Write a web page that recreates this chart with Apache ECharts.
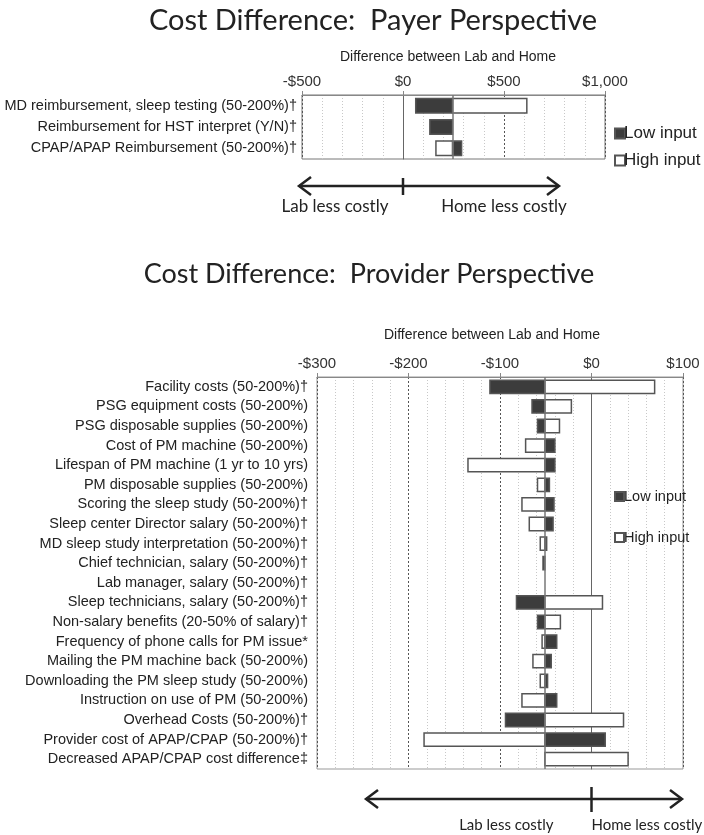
<!DOCTYPE html>
<html>
<head>
<meta charset="utf-8">
<script src="https://cdn.jsdelivr.net/npm/echarts@6/dist/echarts.min.js"></script>
<style>
html,body{margin:0;padding:0;background:#fff;}
#chart{width:704px;height:835px;}
</style>
</head>
<body>
<div id="chart"></div>
<script>
// ---------- DATA ----------
const payerCategories = [
  'MD reimbursement, sleep testing (50-200%)\u2020',
  'Reimbursement for HST interpret (Y/N)\u2020',
  'CPAP/APAP Reimbursement (50-200%)\u2020'
];
const payerBase = 245;
const payerLow  = [63, 133, 290];
const payerHigh = [613, 245, 163];
const payerTicks = [-500, 0, 500, 1000];

const providerCategories = [
  'Facility costs (50-200%)\u2020',
  'PSG equipment costs (50-200%)',
  'PSG disposable supplies (50-200%)',
  'Cost of PM machine (50-200%)',
  'Lifespan of PM machine (1 yr to 10 yrs)',
  'PM disposable supplies (50-200%)',
  'Scoring the sleep study (50-200%)\u2020',
  'Sleep center Director salary (50-200%)\u2020',
  'MD sleep study interpretation (50-200%)\u2020',
  'Chief technician, salary (50-200%)\u2020',
  'Lab manager, salary (50-200%)\u2020',
  'Sleep technicians, salary (50-200%)\u2020',
  'Non-salary benefits (20-50% of salary)\u2020',
  'Frequency of phone calls for PM issue*',
  'Mailing the PM machine back (50-200%)',
  'Downloading the PM sleep study (50-200%)',
  'Instruction on use of PM (50-200%)',
  'Overhead Costs (50-200%)\u2020',
  'Provider cost of APAP/CPAP (50-200%)\u2020',
  'Decreased APAP/CPAP cost difference\u2021'
];
const providerBase = -51;
const providerLow  = [-111, -65, -59, -40, -40, -46, -41, -42, -49, -53, -51, -82, -59, -38, -44, -48, -38, -94, 15, -51];
const providerHigh = [69, -22, -35, -72, -135, -59, -76, -68, -56, -51, -51, 12, -34, -54, -64, -56, -76, 35, -183, 40];
const providerTicks = [-300, -200, -100, 0, 100];

// ---------- HELPERS ----------
const DARK = '#3c3c3c';
const EDGE = '#555555';
function money(v){
  const a = Math.abs(v).toLocaleString('en-US');
  return (v < 0 ? '-$' : '$') + a;
}
function makeRender(base, fill, barRatio){
  return function(params, api){
    const v = api.value(0);
    const c = api.value(1);
    const p0 = api.coord([base, c]);
    const p1 = api.coord([v, c]);
    const h = api.size([0, 1])[1] * barRatio;
    const x = Math.min(p0[0], p1[0]);
    const w = Math.abs(p1[0] - p0[0]);
    if (w < 0.5) return null;
    return {
      type: 'rect',
      shape: {x: x, y: p0[1] - h / 2, width: w, height: h},
      style: {fill: fill, stroke: EDGE, lineWidth: 1.5}
    };
  };
}
function seriesData(arr){ return arr.map((v, i) => [v, i]); }

const FONT = '"Liberation Sans", Arial, sans-serif';
const TITLE_FONT = 'Lato, "Open Sans", sans-serif';

function xAxisCfg(gridIndex, min, max, interval){
  return {
    type: 'value', gridIndex: gridIndex, position: 'top',
    min: min, max: max, interval: interval,
    axisLine: {show: true, lineStyle: {color: '#888', width: 1}},
    axisTick: {show: true, length: 4, lineStyle: {color: '#888'}},
    axisLabel: {formatter: money, fontFamily: FONT, fontSize: 15, color: '#333', margin: 6},
    splitLine: {show: true, lineStyle: {type: [2, 2], color: '#555', width: 1}},
    minorTick: {show: false, splitNumber: 5},
    minorSplitLine: {show: true, lineStyle: {type: [1, 2], color: '#c8c8c8', width: 1}}
  };
}
function yAxisCfg(gridIndex, cats, margin){
  return {
    type: 'category', gridIndex: gridIndex, data: cats, inverse: true,
    axisLine: {show: true, lineStyle: {color: '#666'}},
    axisTick: {show: false},
    axisLabel: {fontFamily: FONT, fontSize: 14.5, color: '#222', margin: margin},
    splitLine: {show: false}
  };
}

const chart = echarts.init(document.getElementById('chart'), null, {renderer: 'canvas'});

const option = {
  animation: false,
  backgroundColor: '#fff',
  title: [
    {text: 'Cost Difference:  Payer Perspective', left: 368, top: 1, textAlign: 'center',
     textStyle: {fontFamily: TITLE_FONT, fontWeight: 'normal', fontSize: 29, color: '#222'}},
    {text: 'Cost Difference:  Provider Perspective', left: 364, top: 256, textAlign: 'center',
     textStyle: {fontFamily: TITLE_FONT, fontWeight: 'normal', fontSize: 27, color: '#222'}},
    {text: 'Difference between Lab and Home', left: 443, top: 45, textAlign: 'center',
     textStyle: {fontFamily: FONT, fontWeight: 'normal', fontSize: 14, color: '#222'}},
    {text: 'Difference between Lab and Home', left: 487, top: 323, textAlign: 'center',
     textStyle: {fontFamily: FONT, fontWeight: 'normal', fontSize: 14, color: '#222'}}
  ],
  grid: [
    {left: 302, width: 303, top: 95, height: 64, show: true, borderColor: '#777', borderWidth: 1, backgroundColor: 'transparent'},
    {left: 317, width: 366, top: 377, height: 392, show: true, borderColor: '#999', borderWidth: 1, backgroundColor: 'transparent'}
  ],
  xAxis: [
    xAxisCfg(0, -500, 1000, 500),
    xAxisCfg(1, -300, 100, 100)
  ],
  yAxis: [
    yAxisCfg(0, payerCategories, 5),
    yAxisCfg(1, providerCategories, 9)
  ],
  legend: [
    {data: [{name: 'Low input', icon: 'rect'}], left: 609, top: 120, itemWidth: 10, itemHeight: 10, itemGap: 4,
     textStyle: {fontFamily: FONT, fontSize: 17, color: '#222', padding: [0, 0, 0, -6]}, selectedMode: false},
    {data: [{name: 'High input', icon: 'rect'}], left: 609, top: 147, itemWidth: 10, itemHeight: 10,
     textStyle: {fontFamily: FONT, fontSize: 17, color: '#222', padding: [0, 0, 0, -6]}, selectedMode: false},
    {data: [{name: 'Low input', icon: 'rect'}], left: 609, top: 484, itemWidth: 9, itemHeight: 9,
     textStyle: {fontFamily: FONT, fontSize: 14.5, color: '#222', padding: [0, 0, 0, -5]}, selectedMode: false},
    {data: [{name: 'High input', icon: 'rect'}], left: 609, top: 525, itemWidth: 9, itemHeight: 9,
     textStyle: {fontFamily: FONT, fontSize: 14.5, color: '#222', padding: [0, 0, 0, -5]}, selectedMode: false}
  ],
  series: [
    {name: 'Low input', type: 'custom', xAxisIndex: 0, yAxisIndex: 0,
     renderItem: makeRender(payerBase, DARK, 0.68), data: seriesData(payerLow),
     encode: {x: 0, y: 1}, itemStyle: {color: DARK, borderColor: EDGE, borderWidth: 1}, z: 3,
     markLine: {silent: true, symbol: 'none', label: {show: false},
       lineStyle: {type: 'solid', color: '#777', width: 1.5}, data: [{xAxis: payerBase}]}},
    {name: 'High input', type: 'custom', xAxisIndex: 0, yAxisIndex: 0,
     renderItem: makeRender(payerBase, '#ffffff', 0.68), data: seriesData(payerHigh),
     encode: {x: 0, y: 1}, itemStyle: {color: '#ffffff', borderColor: EDGE, borderWidth: 1}, z: 3},
    {name: 'Low input', type: 'custom', xAxisIndex: 1, yAxisIndex: 1,
     renderItem: makeRender(providerBase, DARK, 0.68), data: seriesData(providerLow),
     encode: {x: 0, y: 1}, itemStyle: {color: DARK, borderColor: EDGE, borderWidth: 1}, z: 3,
     markLine: {silent: true, symbol: 'none', label: {show: false},
       lineStyle: {type: 'solid', color: '#777', width: 1.5}, data: [{xAxis: providerBase}]}},
    {name: 'High input', type: 'custom', xAxisIndex: 1, yAxisIndex: 1,
     renderItem: makeRender(providerBase, '#ffffff', 0.68), data: seriesData(providerHigh),
     encode: {x: 0, y: 1}, itemStyle: {color: '#ffffff', borderColor: EDGE, borderWidth: 1}, z: 3}
  ]
};
chart.setOption(option);

// ---------- direction arrows (annotation) ----------
function arrow(x0, x1, y, xt, tickH){
  const c = '#222', lw = 2.5, ah = 9, aw = 12;
  return [
    {type: 'line', shape: {x1: x0, y1: y, x2: x1, y2: y}, style: {stroke: c, lineWidth: lw}},
    {type: 'polyline', shape: {points: [[x0 + aw, y - ah], [x0, y], [x0 + aw, y + ah]]}, style: {stroke: c, lineWidth: lw, fill: null}},
    {type: 'polyline', shape: {points: [[x1 - aw, y - ah], [x1, y], [x1 - aw, y + ah]]}, style: {stroke: c, lineWidth: lw, fill: null}},
    {type: 'line', shape: {x1: xt, y1: y - tickH[0], x2: xt, y2: y + tickH[1]}, style: {stroke: c, lineWidth: lw}}
  ];
}
const z0 = chart.convertToPixel({xAxisIndex: 0}, 0);
const z1 = chart.convertToPixel({xAxisIndex: 1}, 0);
const LBL = 'Lato, "Open Sans", sans-serif';
chart.setOption({
  graphic: [
    ...arrow(z0 - 104, z0 + 156, 186, z0, [8, 9]),
    {type: 'text', style: {text: 'Lab less costly', x: z0 - 68, y: 207, textAlign: 'center', textVerticalAlign: 'middle',
      font: '17px ' + LBL, fill: '#222'}},
    {type: 'text', style: {text: 'Home less costly', x: z0 + 101, y: 207, textAlign: 'center', textVerticalAlign: 'middle',
      font: '17px ' + LBL, fill: '#222'}},
    ...arrow(366, 682, 799, z1, [12, 13]),
    {type: 'text', style: {text: 'Lab less costly', x: z1 - 38, y: 825, textAlign: 'right', textVerticalAlign: 'middle',
      font: '15px ' + LBL, fill: '#222'}},
    {type: 'text', style: {text: 'Home less costly', x: z1, y: 825, textAlign: 'left', textVerticalAlign: 'middle',
      font: '15px ' + LBL, fill: '#222'}}
  ]
});
</script>
</body>
</html>
